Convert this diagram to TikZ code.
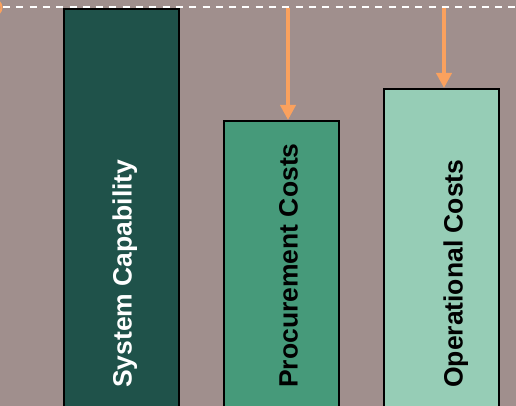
\documentclass[tikz,border=0pt]{standalone}
\usepackage{fontspec}
\setmainfont{Liberation Sans}
\usetikzlibrary{arrows.meta}
\definecolor{bgc}{RGB}{160,143,141}
\definecolor{darkg}{RGB}{31,82,74}
\definecolor{midg}{RGB}{70,154,122}
\definecolor{lightg}{RGB}{150,205,182}
\definecolor{orng}{RGB}{250,161,94}
\tikzset{
  bar/.style={draw=black, line width=2pt},
  lbl/.style={rotate=90, anchor=base west, inner sep=0pt, font=\fontsize{26.5}{30}\selectfont\bfseries},
  arr/.style={draw=orng, line width=4.3pt, -{Triangle[width=15pt,length=15pt]}},
}
\begin{document}
\begin{tikzpicture}[x=1pt,y=1pt]
\useasboundingbox (0,0) rectangle (516,406);
\clip (0,0) rectangle (516,406);
\fill[bgc] (0,0) rectangle (516,406);
% bars
\draw[bar, fill=darkg] (64,-10) rectangle (179,397);
\draw[bar, fill=midg] (224,-10) rectangle (339,285);
\draw[bar, fill=lightg] (384,-10) rectangle (499,317);
\coordinate (b1) at (288,286);
\coordinate (b2) at (444,318);
% dashed line
\coordinate (dl) at (3,399);
\coordinate (dr) at (516,399);
\draw[white, line width=2.3pt, dash pattern=on 7pt off 6.3pt] (dl) -- (dr);
\coordinate (t1) at (288,398);
\coordinate (t2) at (444,398);
\draw[arr] (t1) -- (b1);
\draw[arr] (t2) -- (b2);
% orange arc at left edge
\draw[orng, line width=2pt] (-6.5,398.5) ++(45:8) arc[start angle=45, end angle=-45, radius=8];
% labels
\node[lbl, text=white] (l1) at (131.5,18) {System Capability};
\node[lbl, text=black] (l2) at (297.5,18) {Procurement Costs};
\node[lbl, text=black] (l3) at (462.5,18) {Operational Costs};
\end{tikzpicture}
\end{document}
